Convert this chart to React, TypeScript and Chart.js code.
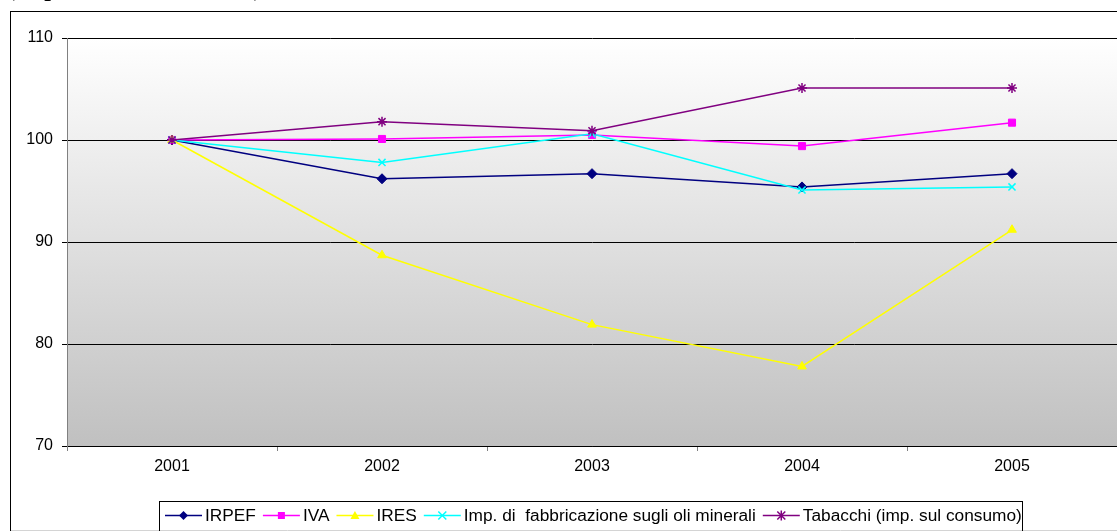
import React, { useEffect, useRef } from "react";
import { Chart, registerables } from "chart.js";

Chart.register(...registerables);

const years = ["2001", "2002", "2003", "2004", "2005"];
const irpef = [100, 96.2, 96.7, 95.4, 96.7];
const iva = [100, 100.1, 100.5, 99.4, 101.7];
const ires = [100, 88.7, 81.9, 77.8, 91.2];
const impOli = [100, 97.8, 100.6, 95.1, 95.4];
const tabacchi = [100, 101.8, 100.9, 105.1, 105.1];

const seriesNames = [
  "IRPEF",
  "IVA",
  "IRES",
  "Imp. di  fabbricazione sugli oli minerali",
  "Tabacchi (imp. sul consumo)",
];
const seriesColors = ["#000080", "#FF00FF", "#FFFF00", "#00FFFF", "#800080"];
const seriesStyles = ["rectRot", "rect", "triangle", "crossRot", "star"];
const titleText = "(Imposte: numeri indice)";

const W = 1117;
const H = 531;

function drawMarker(ctx: CanvasRenderingContext2D, style: string, x: number, y: number, color: string) {
  ctx.save();
  ctx.fillStyle = color;
  ctx.strokeStyle = color;
  ctx.lineWidth = 1.5;
  ctx.beginPath();
  if (style === "rectRot") {
    const r = 4.5;
    ctx.moveTo(x, y - r);
    ctx.lineTo(x + r, y);
    ctx.lineTo(x, y + r);
    ctx.lineTo(x - r, y);
    ctx.closePath();
    ctx.fill();
  } else if (style === "rect") {
    ctx.fillRect(x - 3.5, y - 3.5, 7, 7);
  } else if (style === "triangle") {
    ctx.moveTo(x, y - 4.5);
    ctx.lineTo(x + 4.5, y + 3.5);
    ctx.lineTo(x - 4.5, y + 3.5);
    ctx.closePath();
    ctx.fill();
  } else if (style === "crossRot") {
    const r = 4;
    ctx.moveTo(x - r, y - r);
    ctx.lineTo(x + r, y + r);
    ctx.moveTo(x + r, y - r);
    ctx.lineTo(x - r, y + r);
    ctx.stroke();
  } else if (style === "star") {
    const r = 4;
    ctx.moveTo(x - r, y - r);
    ctx.lineTo(x + r, y + r);
    ctx.moveTo(x + r, y - r);
    ctx.lineTo(x - r, y + r);
    ctx.moveTo(x, y - 5);
    ctx.lineTo(x, y + 5);
    ctx.stroke();
  }
  ctx.restore();
}

const decorPlugin = {
  id: "decor",
  beforeDraw(chart: any) {
    const { ctx, chartArea } = chart;
    const { left, top, right, bottom } = chartArea;
    ctx.save();
    ctx.fillStyle = "#ffffff";
    ctx.fillRect(0, 0, W, H);
    const g = ctx.createLinearGradient(0, top, 0, bottom);
    g.addColorStop(0, "#ffffff");
    g.addColorStop(1, "#c0c0c0");
    ctx.fillStyle = g;
    ctx.fillRect(left, top, right - left, bottom - top);
    ctx.restore();
  },
  afterDraw(chart: any) {
    const { ctx } = chart;
    ctx.save();
    // title (cut off at top)
    ctx.fillStyle = "#000";
    ctx.font = 'bold 24px "Liberation Serif", "Times New Roman", serif';
    ctx.textBaseline = "alphabetic";
    ctx.textAlign = "left";
    ctx.fillText(titleText, 7, -4);
    // outer frame
    ctx.strokeStyle = "#000";
    ctx.lineWidth = 1;
    ctx.strokeRect(10.5, 11.5, 2000, 2000);
    // light line at bottom
    ctx.strokeStyle = "#d4d4d4";
    ctx.beginPath();
    ctx.moveTo(11, 530.5);
    ctx.lineTo(W, 530.5);
    ctx.stroke();
    // legend box
    ctx.fillStyle = "#ffffff";
    ctx.fillRect(160, 502, 862, 28);
    ctx.strokeStyle = "#000";
    ctx.strokeRect(159.5, 501.5, 863, 60);
    // legend items
    ctx.font = '17.3px "Liberation Sans", Arial, sans-serif';
    ctx.textBaseline = "middle";
    let x = 165;
    const cy = 515.5;
    for (let i = 0; i < seriesNames.length; i++) {
      ctx.strokeStyle = seriesColors[i];
      ctx.lineWidth = 1.5;
      ctx.beginPath();
      ctx.moveTo(x, cy);
      ctx.lineTo(x + 37, cy);
      ctx.stroke();
      drawMarker(ctx, seriesStyles[i], x + 18.5, cy, seriesColors[i]);
      ctx.fillStyle = "#000";
      ctx.fillText(seriesNames[i], x + 40, cy + 1);
      x = x + 40 + ctx.measureText(seriesNames[i]).width + 7;
    }
    ctx.restore();
  },
};

export default function App() {
  const ref = useRef<HTMLCanvasElement | null>(null);

  useEffect(() => {
    if (!ref.current) return;
    const data = [irpef, iva, ires, impOli, tabacchi];
    const chart = new Chart(ref.current, {
      type: "line",
      data: {
        labels: years,
        datasets: data.map((d, i) => ({
          label: seriesNames[i],
          data: d,
          borderColor: seriesColors[i],
          backgroundColor: seriesColors[i],
          pointBackgroundColor: seriesColors[i],
          pointBorderColor: seriesColors[i],
          pointStyle: seriesStyles[i] as any,
          pointRadius: 5,
          pointBorderWidth: i >= 3 ? 1.5 : 1,
          borderWidth: 1.5,
          tension: 0,
          fill: false,
          clip: false,
          order: 5 - i,
        })),
      },
      options: {
        responsive: false,
        animation: false,
        devicePixelRatio: 1,
        layout: { autoPadding: false, padding: { left: 10, top: 38, right: 0, bottom: 0 } },
        plugins: {
          legend: { display: false },
          title: { display: false },
          tooltip: { enabled: false },
        },
        scales: {
          x: {
            type: "category",
            offset: true,
            grid: {
              offset: true,
              drawOnChartArea: false,
              drawTicks: true,
              tickLength: 5,
              tickColor: "#808080",
            },
            border: { display: true, color: "#000000", width: 1 },
            ticks: {
              color: "#000",
              font: { family: '"Liberation Sans", Arial, sans-serif', size: 16 },
              padding: 6,
              maxRotation: 0,
            },
            afterFit: (scale: any) => {
              scale.height = 85;
            },
          },
          y: {
            min: 70,
            max: 110,
            ticks: {
              stepSize: 10,
              color: "#000",
              padding: 9,
              font: { family: '"Liberation Sans", Arial, sans-serif', size: 16 },
            },
            grid: {
              color: "#000000",
              lineWidth: 1,
              tickLength: 5,
              drawTicks: true,
            },
            border: { display: true, color: "#808080", width: 1 },
            afterFit: (scale: any) => {
              scale.width = 57;
            },
          },
        },
      },
      plugins: [decorPlugin],
    });
    return () => chart.destroy();
  }, []);

  return (
    <div
      style={{
        position: "fixed",
        left: 0,
        top: 0,
        width: W,
        height: H,
        background: "#fff",
        overflow: "hidden",
      }}
    >
      <canvas ref={ref} width={W} height={H} style={{ display: "block", width: W, height: H }} />
    </div>
  );
}
